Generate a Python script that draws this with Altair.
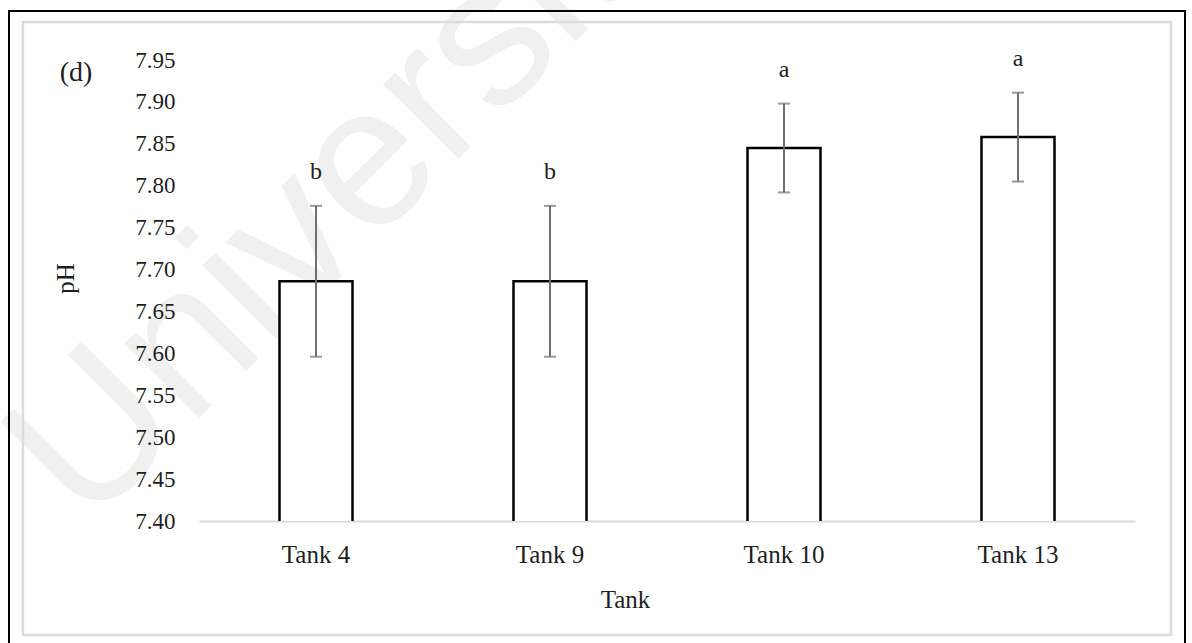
import altair as alt
import pandas as pd

# Mean pH per tank with error bar half-widths and significance letters
tanks = ["Tank 4", "Tank 9", "Tank 10", "Tank 13"]
ph_mean = [7.686, 7.686, 7.845, 7.858]
ph_err = [0.090, 0.090, 0.053, 0.053]
letters = ["b", "b", "a", "a"]

y_ticks = [7.40, 7.45, 7.50, 7.55, 7.60, 7.65, 7.70, 7.75, 7.80, 7.85, 7.90, 7.95]

df = pd.DataFrame({"Tank": tanks, "pH": ph_mean, "err": ph_err, "letter": letters})

W, H = 936, 461
SERIF = "Liberation Serif"
INK = "#1e1e1e"

base = alt.Chart(df).transform_calculate(
    lo="datum.pH - datum.err", hi="datum.pH + datum.err"
)

x_enc = alt.X(
    "Tank:N",
    sort=tanks,
    title="Tank",
    scale=alt.Scale(paddingInner=0, paddingOuter=0),
    axis=alt.Axis(
        labelAngle=0,
        labelFontSize=25,
        labelFont=SERIF,
        labelColor=INK,
        labelPadding=21,
        ticks=False,
        domainColor="#d9d9d9",
        domainWidth=2,
        titleFont=SERIF,
        titleFontSize=25,
        titleFontWeight="normal",
        titleColor=INK,
        titleAlign="center",
        titleX=426,
        titleY=66,
    ),
)

y_scale = alt.Scale(domain=[7.40, 7.95], zero=False, nice=False)

bars = base.mark_bar(
    fill="white", stroke="black", strokeWidth=2.5, size=73, clip=True
).encode(
    x=x_enc,
    y=alt.Y(
        "pH:Q",
        scale=y_scale,
        title="pH",
        axis=alt.Axis(
            values=y_ticks,
            format=".2f",
            grid=False,
            domain=False,
            ticks=False,
            zindex=1,
            labelFont=SERIF,
            labelFontSize=23,
            labelColor=INK,
            labelPadding=24,
            titleFont=SERIF,
            titleFontSize=25,
            titleFontWeight="normal",
            titleColor=INK,
            titleX=-121,
            titleY=218,
        ),
    ),
)

whisker = base.mark_rule(color="#707070", strokeWidth=2).encode(
    x=alt.X("Tank:N", sort=tanks),
    y=alt.Y("lo:Q", scale=y_scale),
    y2="hi:Q",
)

caps_hi = base.mark_tick(
    color="#707070", thickness=2, size=12, orient="horizontal"
).encode(x=alt.X("Tank:N", sort=tanks), y=alt.Y("hi:Q", scale=y_scale))

caps_lo = base.mark_tick(
    color="#707070", thickness=2, size=12, orient="horizontal"
).encode(x=alt.X("Tank:N", sort=tanks), y=alt.Y("lo:Q", scale=y_scale))

labels = base.mark_text(
    font=SERIF, fontSize=24, color=INK, baseline="middle", dy=-34
).encode(
    x=alt.X("Tank:N", sort=tanks),
    y=alt.Y("hi:Q", scale=y_scale),
    text="letter:N",
)

# Decorations: faint diagonal watermark, panel tag and the two frames
watermark = alt.Chart(pd.DataFrame({"t": ["Universiti"]})).mark_text(
    font="Liberation Sans",
    fontSize=200,
    color="#f0f0f0",
    angle=315,
    align="left",
    baseline="alphabetic",
).encode(x=alt.value(-112), y=alt.value(470), text="t:N")

tag = alt.Chart(pd.DataFrame({"t": ["(d)"]})).mark_text(
    font=SERIF, fontSize=28, color=INK, align="center", baseline="middle"
).encode(x=alt.value(-123), y=alt.value(13), text="t:N")

outer_frame = alt.Chart(pd.DataFrame({"k": [0]})).mark_rect(
    fill=None, stroke="black", strokeWidth=2
).encode(x=alt.value(-190), x2=alt.value(986), y=alt.value(-49), y2=alt.value(600))

inner_frame = alt.Chart(pd.DataFrame({"k": [0]})).mark_rect(
    fill=None, stroke="#dcdcdc", strokeWidth=2.5
).encode(x=alt.value(-176), x2=alt.value(972), y=alt.value(-38), y2=alt.value(575))

chart = (
    alt.layer(watermark, outer_frame, inner_frame, bars, whisker, caps_hi, caps_lo, labels, tag)
    .properties(
        width=W,
        height=H,
        autosize=alt.AutoSizeParams(type="none"),
        padding={"left": 199, "top": 60, "right": 57, "bottom": 122},
        background="white",
    )
    .configure_view(stroke=None)
)

chart.save("out.html", embed_options={"renderer": "svg", "actions": False})
